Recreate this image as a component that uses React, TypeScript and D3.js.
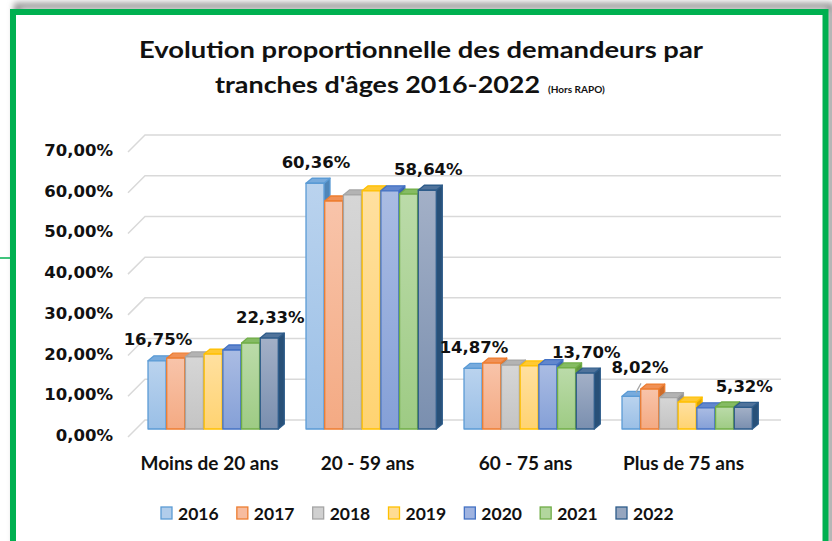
import { useRef, useEffect } from 'react';
import * as d3 from 'd3';

const categories = ['Moins de 20 ans', '20 - 59 ans', '60 - 75 ans', 'Plus de 75 ans'];
const years = ['2016', '2017', '2018', '2019', '2020', '2021', '2022'];
const values2016 = [16.75, 60.36, 14.87, 8.02];
const values2017 = [17.4, 56.0, 16.2, 9.8];
const values2018 = [17.7, 57.5, 15.7, 7.7];
const values2019 = [18.4, 58.5, 15.5, 6.6];
const values2020 = [19.4, 58.5, 15.8, 5.2];
const values2021 = [21.1, 57.7, 15.0, 5.4];
const values2022 = [22.33, 58.64, 13.7, 5.32];
const series = [values2016, values2017, values2018, values2019, values2020, values2021, values2022];
const yTicks = [0, 10, 20, 30, 40, 50, 60, 70];
// years whose values get a data label
const labelledYears = ['2016', '2022'];

const fills = ['#A3C4E8', '#F5B08E', '#C8C8C8', '#FFD680', '#8EA6DA', '#A4CF8C', '#8496B4'];
const strokes = ['#5B9BD5', '#ED7D31', '#A5A5A5', '#FFC000', '#4472C4', '#70AD47', '#2E5C8A'];

const frFmt = (v: number) => d3.format('.2f')(v).replace('.', ',') + '%';

export default function App() {
  const svgRef = useRef<SVGSVGElement>(null);

  useEffect(() => {
    if (!svgRef.current) return;
    const svg = d3.select(svgRef.current);
    svg.selectAll('*').remove();

    const numFont = '"DejaVu Sans", sans-serif';
    const txtFont = 'Lato, "Noto Sans", sans-serif';

    const defs = svg.append('defs');
    fills.forEach((f, i) => {
      const gr = defs.append('linearGradient').attr('id', `bar${i}`).attr('x1', 0).attr('y1', 0).attr('x2', 0).attr('y2', 1);
      gr.append('stop').attr('offset', '0%').attr('stop-color', d3.interpolateRgb(f, '#ffffff')(0.25));
      gr.append('stop').attr('offset', '100%').attr('stop-color', d3.interpolateRgb(f, strokes[i])(0.12));
    });
    const blur = defs.append('filter').attr('id', 'shadow').attr('x', '-5%').attr('y', '-5%').attr('width', '110%').attr('height', '110%');
    blur.append('feGaussianBlur').attr('stdDeviation', 3);

    // frame
    svg.append('rect').attr('x', 17).attr('y', 6).attr('width', 814).attr('height', 560)
      .attr('fill', 'none').attr('stroke', '#8c8c8c').attr('stroke-width', 6).attr('filter', 'url(#shadow)');
    svg.append('rect').attr('x', 13).attr('y', 12).attr('width', 812.5).attr('height', 560)
      .attr('fill', '#fff').attr('stroke', '#00B050').attr('stroke-width', 6);
    svg.append('line').attr('x1', 0).attr('x2', 10).attr('y1', 258).attr('y2', 258)
      .attr('stroke', '#00B050').attr('stroke-width', 1.5);

    // title
    svg.append('text').attr('x', 421).attr('y', 58).attr('text-anchor', 'middle')
      .attr('font-family', txtFont).attr('font-weight', 700).attr('font-size', 23).attr('fill', '#111')
      .attr('textLength', 564).attr('lengthAdjust', 'spacingAndGlyphs')
      .text('Evolution  proportionnelle  des demandeurs  par');
    const t2 = svg.append('text').attr('x', 215).attr('y', 93)
      .attr('font-family', txtFont).attr('font-weight', 700).attr('fill', '#111');
    t2.append('tspan').attr('font-size', 23).attr('textLength', 325).attr('lengthAdjust', 'spacingAndGlyphs')
      .text("tranches  d'âges 2016-2022");
    t2.append('tspan').attr('x', 548).attr('font-size', 10).text('(Hors RAPO)');

    const x0 = d3.scaleBand().domain(categories).range([134.5, 766.5]).paddingInner(0.171).paddingOuter(0.0855);
    const x1 = d3.scaleBand().domain(years).range([0, x0.bandwidth()]);
    const y = d3.scaleLinear().domain([0, 70]).range([429, 144]);
    const DX = 6, DY = -5, BW = 18;
    const FRONT = 8, BACK = -9;

    // back wall gridlines
    const grid = svg.append('g');
    yTicks.forEach((t) => {
      grid.append('path')
        .attr('d', `M128,${y(t) + FRONT} L145,${y(t) + BACK} L781,${y(t) + BACK}`)
        .attr('fill', 'none').attr('stroke', '#d9d9d9').attr('stroke-width', 1.5);
    });

    // y tick labels
    svg.append('g').selectAll('text').data(yTicks).join('text')
      .attr('x', 113).attr('y', (d) => y(d) + FRONT - 1.5)
      .attr('text-anchor', 'end').attr('dominant-baseline', 'central')
      .attr('font-family', numFont).attr('font-weight', 700).attr('font-size', 16.5).attr('fill', '#111')
      .text((d) => frFmt(d));

    // 3D bars
    const bars = svg.append('g');
    categories.forEach((c, ci) => {
      years.forEach((yr, si) => {
        const v = series[si][ci];
        const x = (x0(c) ?? 0) + (x1(yr) ?? 0);
        const top = y(v);
        const base = y(0);
        const stroke = strokes[si];
        const g = bars.append('g').attr('stroke', stroke).attr('stroke-width', 1.3).attr('stroke-linejoin', 'round');
        g.append('path')
          .attr('d', `M${x + BW},${top} L${x + BW + DX},${top + DY} L${x + BW + DX},${base + DY} L${x + BW},${base} Z`)
          .attr('fill', d3.color(stroke)!.darker(0.4).formatHex());
        g.append('path')
          .attr('d', `M${x},${top} L${x + DX},${top + DY} L${x + BW + DX},${top + DY} L${x + BW},${top} Z`)
          .attr('fill', d3.interpolateRgb(fills[si], stroke)(0.6));
        g.append('rect').attr('x', x).attr('y', top).attr('width', BW).attr('height', base - top)
          .attr('fill', `url(#bar${si})`);
      });
    });

    // data labels
    const labels = svg.append('g');
    categories.forEach((c, ci) => {
      labelledYears.forEach((yr) => {
        const si = years.indexOf(yr);
        const v = series[si][ci];
        const cx = (x0(c) ?? 0) + (x1(yr) ?? 0) + BW / 2;
        const shifted = ci === 3 && si === 0;
        const lx = cx + (shifted ? 9 : 1);
        const ly = y(v) - (shifted ? 29 : 21);
        if (shifted) {
          labels.append('line').attr('x1', cx + 5).attr('y1', y(v) - 4).attr('x2', cx + 10).attr('y2', y(v) - 13)
            .attr('stroke', '#a6a6a6').attr('stroke-width', 1.2);
        }
        labels.append('text').attr('x', lx).attr('y', ly)
          .attr('text-anchor', 'middle').attr('dominant-baseline', 'central')
          .attr('font-family', numFont).attr('font-weight', 700).attr('font-size', 16.5).attr('fill', '#111')
          .text(frFmt(v));
      });
    });

    // category labels
    svg.append('g').selectAll('text').data(categories).join('text')
      .attr('x', (d) => (x0(d) ?? 0) + x0.bandwidth() / 2 - 4)
      .attr('y', 462).attr('text-anchor', 'middle').attr('dominant-baseline', 'central')
      .attr('font-family', txtFont).attr('font-weight', 700).attr('font-size', 19).attr('fill', '#111')
      .text((d) => d);

    // legend
    const lx = d3.scalePoint().domain(years).range([161, 616]);
    const leg = svg.append('g').selectAll('g').data(years).join('g')
      .attr('transform', (d) => `translate(${lx(d)},513)`);
    leg.append('rect').attr('x', 0).attr('y', -6).attr('width', 11).attr('height', 12)
      .attr('fill', (_, i) => d3.interpolateRgb(fills[i], '#ffffff')(0.15))
      .attr('stroke', (_, i) => strokes[i]).attr('stroke-width', 1.3);
    leg.append('text').attr('x', 17).attr('y', 0).attr('dominant-baseline', 'central')
      .attr('font-family', txtFont).attr('font-weight', 700).attr('font-size', 17.5).attr('fill', '#111')
      .text((d) => d);
  }, []);

  return (
    <svg
      ref={svgRef}
      width={832}
      height={541}
      style={{ position: 'absolute', left: 0, top: 0, background: '#fff' }}
    />
  );
}
